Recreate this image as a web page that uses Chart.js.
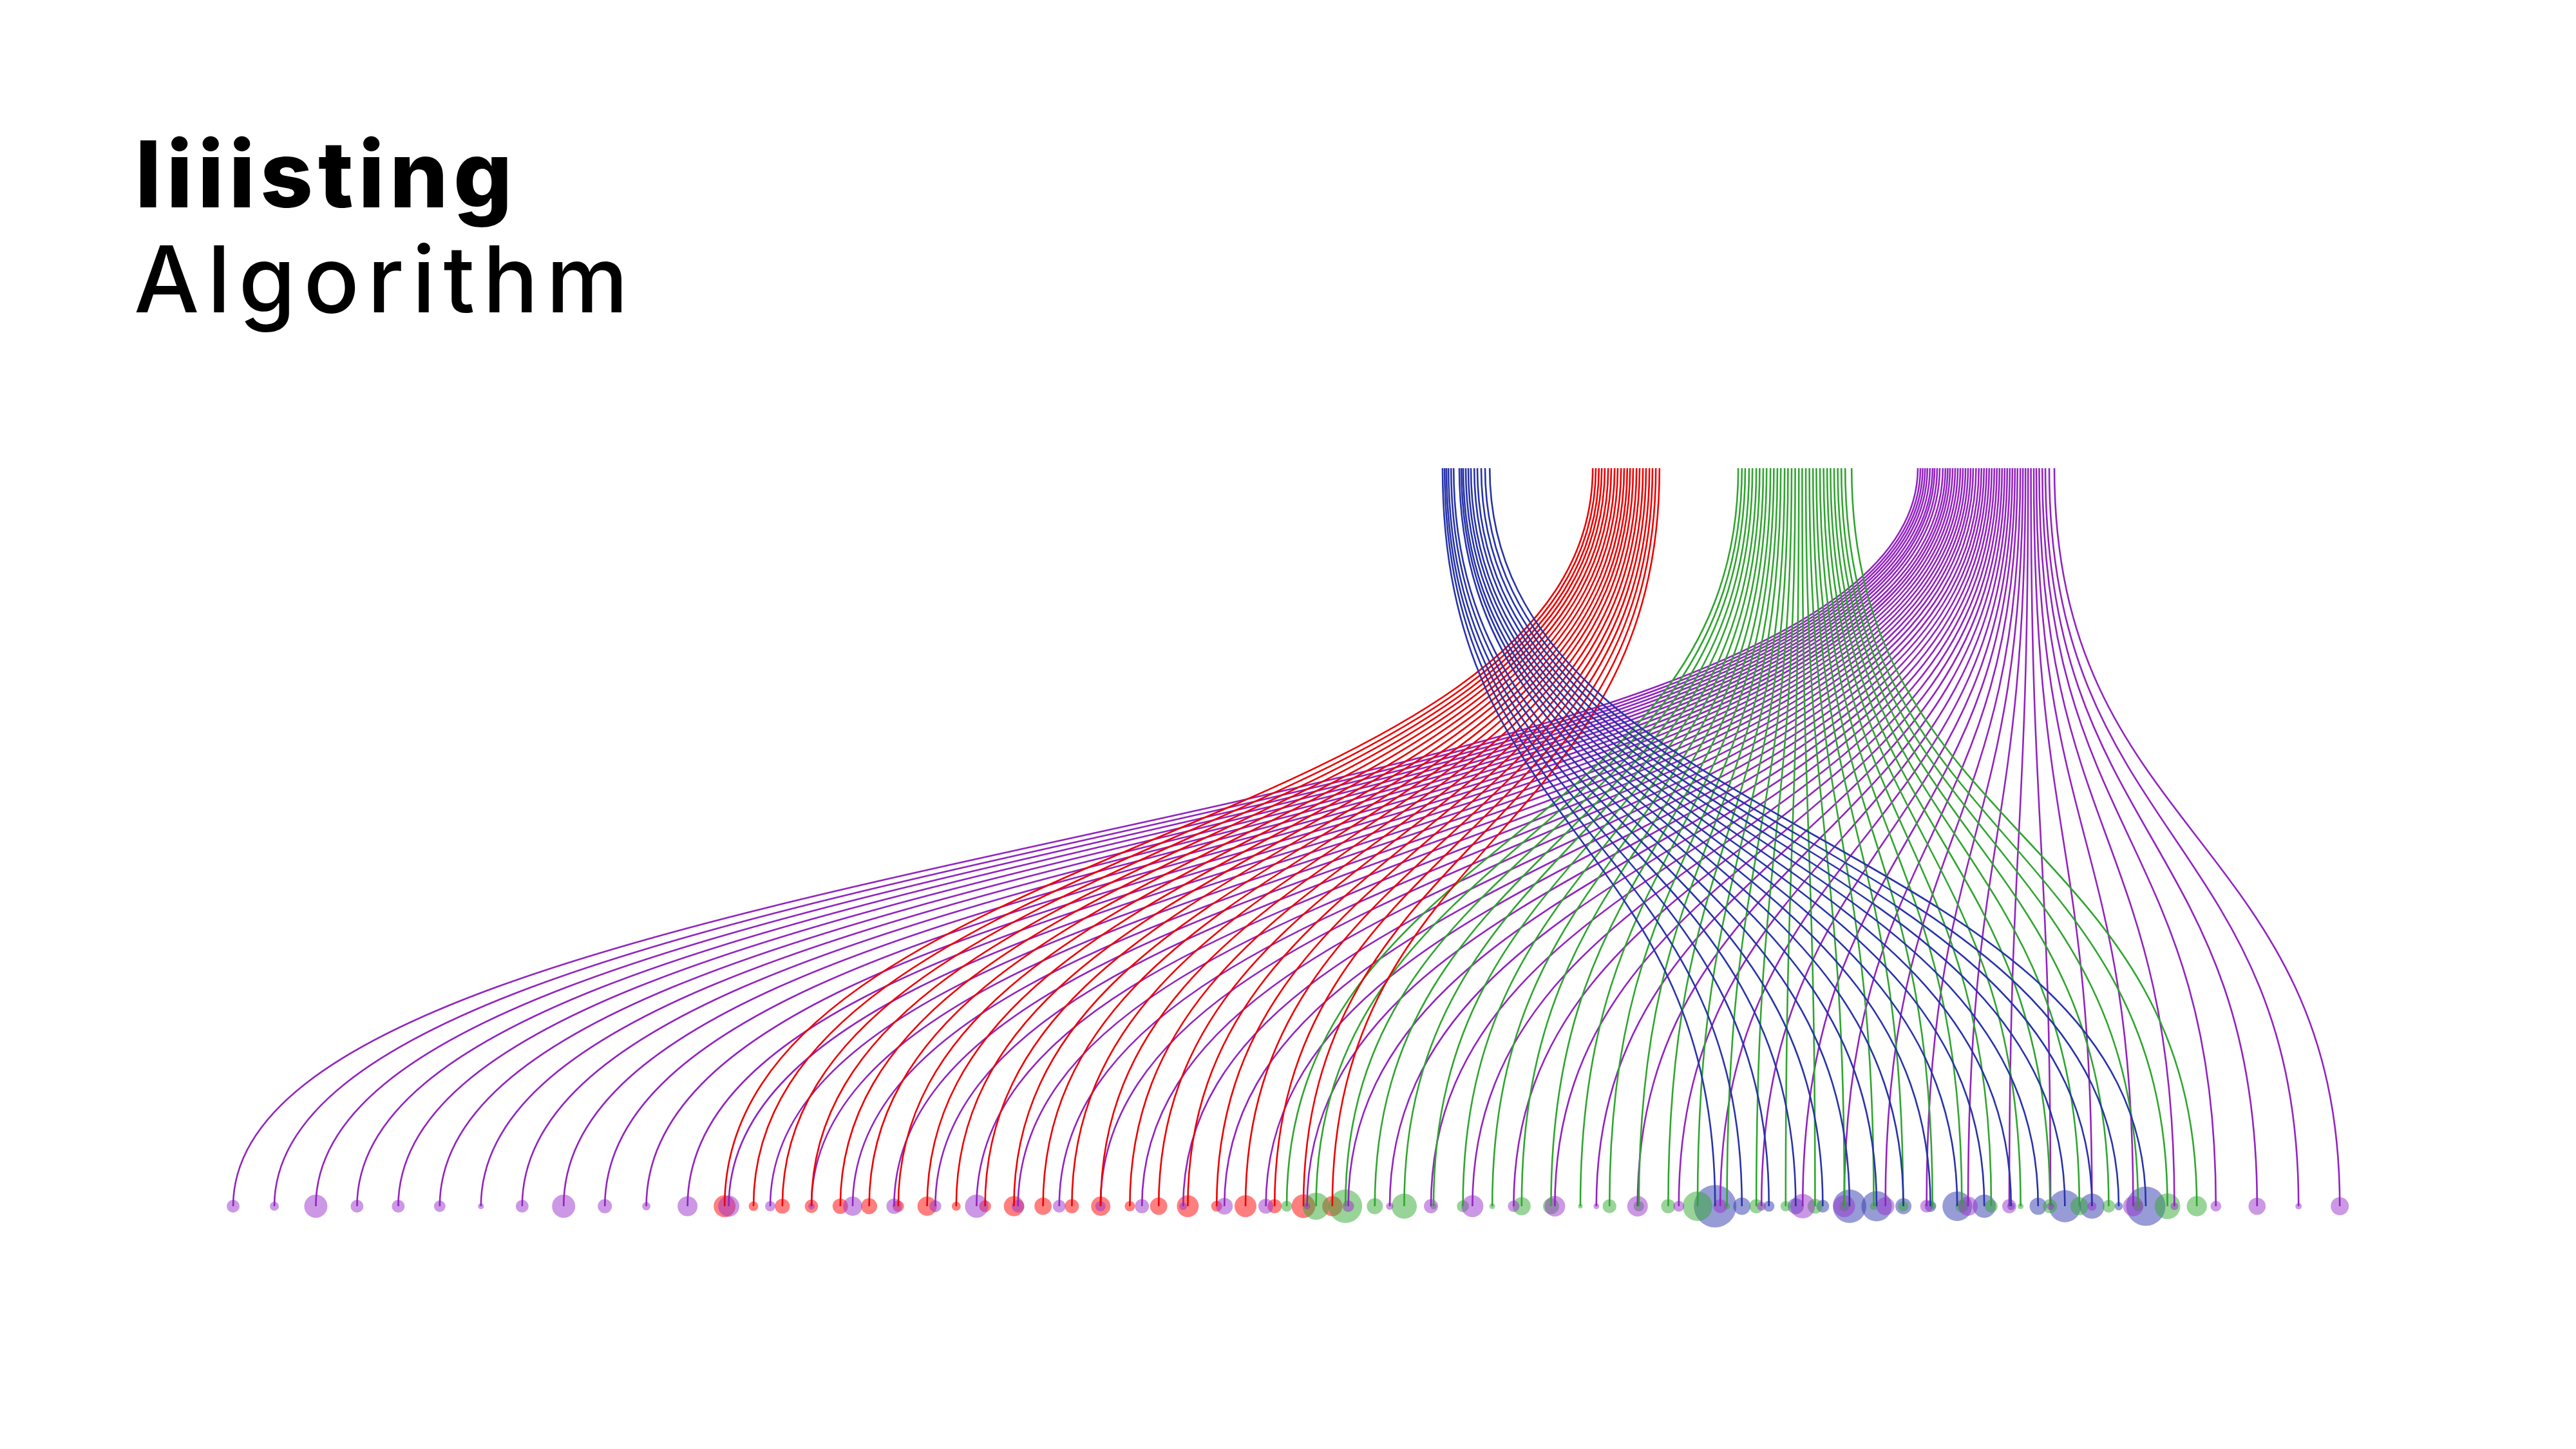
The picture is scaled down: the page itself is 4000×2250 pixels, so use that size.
<!DOCTYPE html>
<html>
<head>
<meta charset="utf-8">
<title>liiisting Algorithm</title>
<script src="https://cdn.jsdelivr.net/npm/chart.js@4.4.1/dist/chart.umd.min.js"></script>
<style>
  html, body { margin: 0; padding: 0; background: #fff; }
  canvas { display: block; }
</style>
</head>
<body>
<canvas id="linkChart" width="4000" height="2250"></canvas>
<script>
// positions are in % of the page width; radius of each dot in px
const purpleTop = [74.45, 74.55, 74.64, 74.73, 74.82, 74.92, 75.02, 75.10, 75.20, 75.30, 75.42, 75.52, 75.61, 75.70, 75.80, 75.90, 76.00, 76.10, 76.20, 76.30, 76.40, 76.50, 76.60, 76.71, 76.82, 76.92, 77.02, 77.12, 77.22, 77.32, 77.42, 77.52, 77.62, 77.72, 77.82, 77.92, 78.02, 78.12, 78.22, 78.32, 78.43, 78.53, 78.63, 78.73, 78.84, 78.95, 79.05, 79.16, 79.28, 79.40, 79.55, 79.75];
const purpleBottom = [9.05, 10.65, 12.26, 13.86, 15.46, 17.07, 18.67, 20.27, 21.88, 23.48, 25.09, 26.69, 28.29, 29.90, 31.50, 33.10, 34.71, 36.31, 37.91, 39.52, 41.12, 42.72, 44.33, 45.93, 47.53, 49.14, 50.74, 52.34, 53.95, 55.55, 57.16, 58.76, 60.36, 61.97, 63.57, 65.17, 66.78, 68.38, 69.98, 71.59, 73.19, 74.79, 76.40, 78.00, 79.60, 81.21, 82.81, 84.41, 86.02, 87.62, 89.23, 90.83];
const purpleSize = [10, 7, 18, 10, 10, 9, 4.6, 10, 18, 11, 6.4, 15.5, 16.4, 8, 5, 15, 12, 9.3, 18, 10, 10, 8, 11, 6, 13, 11.6, 5, 9, 5.7, 11, 17, 9, 16, 4.5, 16, 8.6, 10.7, 7, 19, 17, 14, 10, 15, 11, 6, 7, 15.7, 6, 8.3, 13.3, 5, 14];

const redTop = [61.83, 61.95, 62.07, 62.18, 62.30, 62.43, 62.55, 62.68, 62.80, 62.93, 63.05, 63.17, 63.28, 63.40, 63.53, 63.65, 63.78, 63.90, 64.03, 64.15, 64.28, 64.42];
const redBottom = [28.13, 29.25, 30.37, 31.50, 32.62, 33.74, 34.87, 35.99, 37.12, 38.24, 39.36, 40.49, 41.61, 42.73, 43.86, 44.98, 46.11, 47.23, 48.35, 49.48, 50.60, 51.72];
const redSize = [17, 7.5, 11.6, 10.4, 12, 12.5, 9, 15, 7, 9.3, 15.7, 13.4, 11, 15, 8, 13.4, 17, 8.6, 17, 11, 18.4, 15.7];

const greenTop = [67.48, 67.62, 67.75, 67.90, 68.03, 68.18, 68.31, 68.45, 68.58, 68.73, 68.86, 69.00, 69.13, 69.28, 69.41, 69.55, 69.69, 69.83, 69.96, 70.10, 70.24, 70.38, 70.51, 70.65, 70.79, 70.93, 71.06, 71.20, 71.34, 71.48, 71.63, 71.88];
const greenBottom = [49.95, 51.09, 52.23, 53.37, 54.51, 55.65, 56.79, 57.93, 59.07, 60.21, 61.35, 62.48, 63.62, 64.76, 65.90, 67.04, 68.18, 69.32, 70.46, 71.60, 72.74, 73.88, 75.02, 76.16, 77.30, 78.44, 79.58, 80.72, 81.86, 83.00, 84.14, 85.28];
const greenSize = [8.6, 21, 26, 12.5, 19.6, 5, 9.3, 4.5, 14, 12.5, 3.6, 10.7, 8, 11, 23, 5, 11, 8, 11.6, 8, 6, 8, 5, 10, 10, 4.6, 11, 14, 10, 8, 20, 15.7];

const blueTop = [56.00, 56.08, 56.15, 56.23, 56.33, 56.43, 56.65, 56.73, 56.80, 56.90, 57.00, 57.10, 57.23, 57.35, 57.50, 57.65, 57.83];
const blueBottom = [66.58, 67.62, 68.67, 69.71, 70.76, 71.80, 72.85, 73.89, 74.94, 75.98, 77.03, 78.07, 79.12, 80.16, 81.21, 82.25, 83.30];
const blueSize = [33, 13.4, 8.6, 12.5, 10, 26, 23.6, 12.5, 9, 23, 18, 6, 13.3, 25, 19.4, 6.5, 30.5];

const groups = [
    { name: "purple", top: purpleTop, bottom: purpleBottom, size: purpleSize, line: "rgb(146, 36, 192)", fill: "rgba(153, 50, 204, 0.5)" },
    { name: "green", top: greenTop, bottom: greenBottom, size: greenSize, line: "rgb(48, 165, 48)", fill: "rgba(50, 170, 50, 0.5)" },
    { name: "red", top: redTop, bottom: redBottom, size: redSize, line: "rgb(238, 0, 0)", fill: "rgba(255, 0, 0, 0.5)" },
    { name: "blue", top: blueTop, bottom: blueBottom, size: blueSize, line: "rgb(40, 52, 168)", fill: "rgba(48, 58, 176, 0.5)" },
];

// curves from the top row (y = 1) down to each dot (y = 0)
const linkPlugin = {
    id: "links",
    afterDatasetsDraw(chart) {
        const ctx = chart.ctx;
        const xs = chart.scales.x;
        const ys = chart.scales.y;
        const y0 = ys.getPixelForValue(1);
        const y1 = ys.getPixelForValue(0);
        const ym = (y0 + y1) / 2;
        ctx.save();
        ctx.lineWidth = 2.6;
        groups.forEach(function (g) {
            ctx.strokeStyle = g.line;
            for (let i = 0; i < g.top.length; i++) {
                const x0 = xs.getPixelForValue(g.top[i]);
                const x1 = xs.getPixelForValue(g.bottom[i]);
                ctx.beginPath();
                ctx.moveTo(x0, y0);
                ctx.bezierCurveTo(x0, ym, x1, ym, x1, y1);
                ctx.stroke();
            }
        });
        ctx.restore();
    },
};

const titlePlugin = {
    id: "heading",
    afterDraw(chart) {
        const ctx = chart.ctx;
        ctx.save();
        ctx.fillStyle = "#000";
        ctx.textBaseline = "alphabetic";
        ctx.font = "800 143px Inter";
        ctx.letterSpacing = "8px";
        ctx.fillText("liiisting", 210, 322);
        ctx.font = "500 143px Inter";
        ctx.letterSpacing = "12.5px";
        ctx.fillText("Algorithm", 208, 485);
        ctx.restore();
    },
};

const ctx = document.getElementById("linkChart").getContext("2d");

new Chart(ctx, {
    type: "bubble",
    data: {
        datasets: groups.map(function (g) {
            return {
                label: g.name,
                data: g.bottom.map(function (x, i) {
                    return { x: x, y: 0, r: g.size[i] };
                }),
                backgroundColor: g.fill,
                borderWidth: 0,
                hoverRadius: 0,
                clip: false,
            };
        }),
    },
    options: {
        responsive: false,
        devicePixelRatio: 1,
        animation: false,
        layout: { autoPadding: false, padding: { top: 727, bottom: 377, left: 0, right: 0 } },
        scales: {
            x: { type: "linear", min: 0, max: 100, display: false },
            y: { type: "linear", min: 0, max: 1, display: false },
        },
        plugins: {
            legend: { display: false },
            tooltip: { enabled: false },
        },
    },
    plugins: [linkPlugin, titlePlugin],
});
</script>
</body>
</html>
